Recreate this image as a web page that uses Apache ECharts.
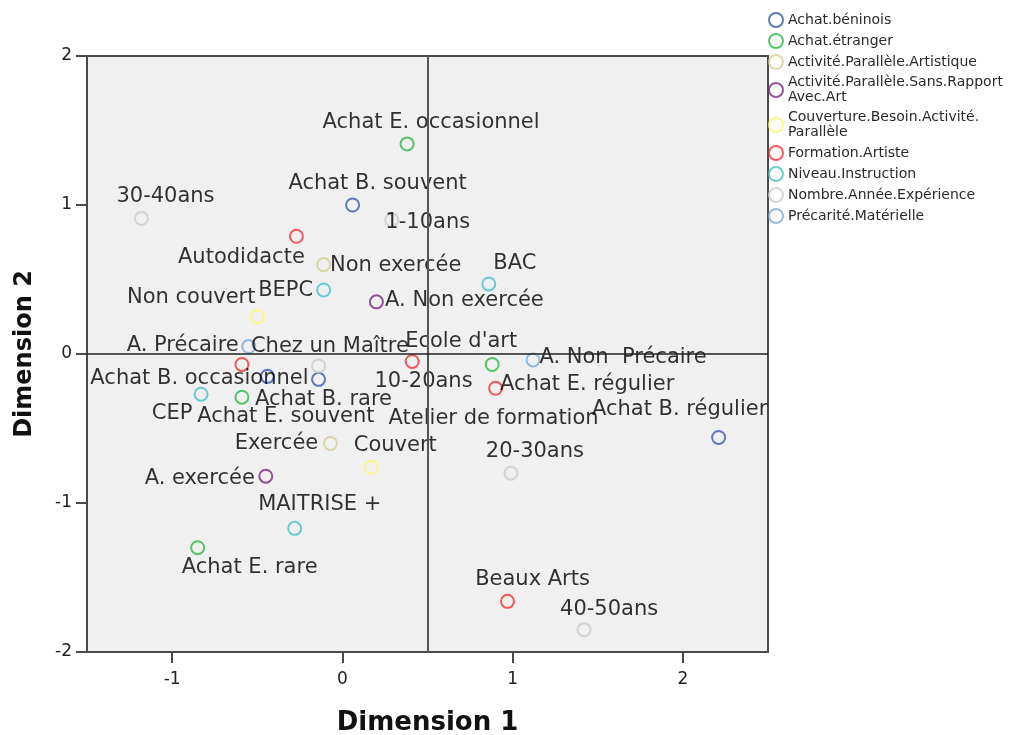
<!DOCTYPE html>
<html>
<head>
<meta charset="utf-8">
<script src="https://cdn.jsdelivr.net/npm/echarts@6/dist/echarts.min.js"></script>
<style>
html,body{margin:0;padding:0;background:#fff;}
#chart{width:1016px;height:735px;}
</style>
</head>
<body>
<div id="chart"></div>
<script>
// ---- Data (category points, Dimension 1 / Dimension 2) ----
const groupNames = ['Achat.béninois','Achat.étranger','Activité.Parallèle.Artistique','Activité.Parallèle.Sans.Rapport Avec.Art','Couverture.Besoin.Activité. Parallèle','Formation.Artiste','Niveau.Instruction','Nombre.Année.Expérience','Précarité.Matérielle'];

const beninoisLabels = ['Achat B. souvent','Achat B. occasionnel','Achat B. rare','Achat B. régulier'];
const beninoisDim1 = [0.06, -0.44, -0.14, 2.21];
const beninoisDim2 = [1.00, -0.15, -0.17, -0.56];

const etrangerLabels = ['Achat E. occasionnel','Achat E. souvent','Achat E. régulier','Achat E. rare'];
const etrangerDim1 = [0.38, -0.59, 0.88, -0.85];
const etrangerDim2 = [1.41, -0.29, -0.07, -1.30];

const artistiqueLabels = ['Non exercée','Exercée'];
const artistiqueDim1 = [-0.11, -0.07];
const artistiqueDim2 = [0.60, -0.60];

const sansRapportLabels = ['A. Non exercée','A. exercée'];
const sansRapportDim1 = [0.20, -0.45];
const sansRapportDim2 = [0.35, -0.82];

const couvertureLabels = ['Non couvert','Couvert'];
const couvertureDim1 = [-0.50, 0.17];
const couvertureDim2 = [0.25, -0.76];

const formationLabels = ['Autodidacte','Chez un Maître','Ecole d\'art','Atelier de formation','Beaux Arts'];
const formationDim1 = [-0.27, -0.59, 0.41, 0.90, 0.97];
const formationDim2 = [0.79, -0.07, -0.05, -0.23, -1.66];

const instructionLabels = ['BEPC','BAC','CEP','MAITRISE +'];
const instructionDim1 = [-0.11, 0.86, -0.83, -0.28];
const instructionDim2 = [0.43, 0.47, -0.27, -1.17];

const experienceLabels = ['30-40ans','1-10ans','10-20ans','20-30ans','40-50ans'];
const experienceDim1 = [-1.18, 0.29, -0.14, 0.99, 1.42];
const experienceDim2 = [0.91, 0.90, -0.08, -0.80, -1.85];

const precariteLabels = ['A. Précaire','A. Non  Précaire'];
const precariteDim1 = [-0.55, 1.12];
const precariteDim2 = [0.05, -0.04];

const xTicks = [-1, 0, 1, 2];
const refDim1 = 0.5;
const refDim2 = 0;

// ---- Styling ----
const palette = ['#3E58AC','#2EB848','#D3CE97','#7C287D','#FBF873','#EF3338','#48C2C5','#CCCCCC','#7AAAD5'];
const legendWrap = {
  'Activité.Parallèle.Sans.Rapport Avec.Art': 'Activité.Parallèle.Sans.Rapport\nAvec.Art',
  'Couverture.Besoin.Activité. Parallèle': 'Couverture.Besoin.Activité.\nParallèle'
};
// label placement (pixels, relative to the point)
const labelShift = {
  'Achat B. souvent':[25,-21], 'Achat B. occasionnel':[-68,2], 'Achat B. rare':[5,20], 'Achat B. régulier':[-39,-28],
  'Achat E. occasionnel':[24,-21], 'Achat E. souvent':[44,19], 'Achat E. régulier':[95,20], 'Achat E. rare':[52,20],
  'Non exercée':[72,1], 'Exercée':[-54,0],
  'A. Non exercée':[88,-1], 'A. exercée':[-66,2],
  'Non couvert':[-66,-19], 'Couvert':[24,-22],
  'Autodidacte':[-55,21], 'Chez un Maître':[88,-18], 'Ecole d\'art':[49,-20], 'Atelier de formation':[-2,30], 'Beaux Arts':[25,-22],
  'BEPC':[-38,1], 'BAC':[26,-20], 'CEP':[-29,19], 'MAITRISE +':[25,-24],
  '30-40ans':[24,-22], '1-10ans':[36,3], '10-20ans':[105,16], '20-30ans':[24,-22], '40-50ans':[25,-20],
  'A. Précaire':[-66,-1], 'A. Non  Précaire':[90,-2]
};

const groupLabels = [beninoisLabels, etrangerLabels, artistiqueLabels, sansRapportLabels, couvertureLabels, formationLabels, instructionLabels, experienceLabels, precariteLabels];
const groupDim1 = [beninoisDim1, etrangerDim1, artistiqueDim1, sansRapportDim1, couvertureDim1, formationDim1, instructionDim1, experienceDim1, precariteDim1];
const groupDim2 = [beninoisDim2, etrangerDim2, artistiqueDim2, sansRapportDim2, couvertureDim2, formationDim2, instructionDim2, experienceDim2, precariteDim2];

const FONT = 'DejaVu Sans';

const series = groupNames.map((g, gi) => ({
  name: g,
  type: 'scatter',
  symbol: 'circle',
  symbolSize: 13,
  itemStyle: { color: 'rgba(0,0,0,0)', borderColor: palette[gi], borderWidth: 2 },
  emphasis: { disabled: true },
  label: {
    show: true,
    position: 'inside',
    formatter: p => p.name,
    color: '#000',
    textBorderWidth: 0,
    fontFamily: FONT,
    fontSize: 21
  },
  z: 3,
  data: groupLabels[gi].map((n, i) => ({
    name: n,
    value: [groupDim1[gi][i], groupDim2[gi][i]],
    label: { offset: labelShift[n] || [24, -21] }
  }))
}));

series.push({
  name: 'refs',
  type: 'scatter',
  data: [],
  silent: true,
  z: 1,
  markLine: {
    silent: true,
    symbol: ['none', 'none'],
    label: { show: false },
    animation: false,
    data: [
      { xAxis: refDim1, lineStyle: { color: '#555', width: 2, type: 'solid' } },
      { yAxis: refDim2, lineStyle: { color: '#222', width: 1.5, type: 'solid' } }
    ]
  }
});

const chart = echarts.init(document.getElementById('chart'), null, { renderer: 'canvas' });
chart.setOption({
  animation: false,
  backgroundColor: '#fff',
  grid: {
    left: 87, right: 248, top: 56, bottom: 83,
    containLabel: false,
    outerBoundsMode: 'none',
    show: true, backgroundColor: '#f0f0f0', borderColor: '#4a4a4a', borderWidth: 2
  },
  legend: {
    data: groupNames,
    orient: 'vertical',
    left: 763,
    top: 7,
    padding: 5,
    itemWidth: 14,
    itemHeight: 14,
    itemGap: 5,
    selectedMode: false,
    formatter: n => legendWrap[n] || n,
    textStyle: { fontFamily: FONT, fontSize: 14, lineHeight: 15, color: '#2a2a2a' }
  },
  xAxis: {
    type: 'value',
    min: -1.5,
    max: 2.5,
    name: 'Dimension 1',
    nameLocation: 'middle',
    nameGap: 58,
    nameTextStyle: { fontFamily: FONT, fontWeight: 'bold', fontSize: 26, color: '#111' },
    splitLine: { show: false },
    axisLine: { show: true, onZero: false, lineStyle: { color: '#4a4a4a', width: 2 } },
    axisTick: { show: true, length: 11, customValues: xTicks, lineStyle: { color: '#4a4a4a', width: 2 } },
    axisLabel: { customValues: xTicks, margin: 19, fontFamily: FONT, fontSize: 17, color: '#222' }
  },
  yAxis: {
    type: 'value',
    min: -2,
    max: 2,
    interval: 1,
    name: 'Dimension 2',
    nameLocation: 'middle',
    nameGap: 50,
    nameRotate: 90,
    nameTextStyle: { fontFamily: FONT, fontWeight: 'bold', fontSize: 24, color: '#111' },
    splitLine: { show: false },
    axisLine: { show: true, onZero: false, lineStyle: { color: '#4a4a4a', width: 2 } },
    axisTick: { show: true, length: 11, lineStyle: { color: '#4a4a4a', width: 2 } },
    axisLabel: { margin: 15, fontFamily: FONT, fontSize: 17, color: '#222' }
  },
  series: series
});
</script>
</body>
</html>
